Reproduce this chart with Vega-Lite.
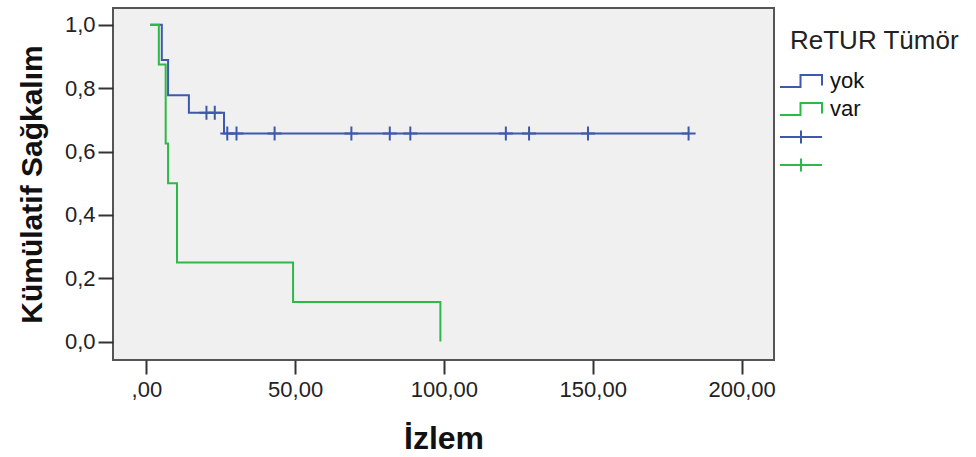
{
  "$schema": "https://vega.github.io/schema/vega-lite/v6.json",
  "autosize": {"type": "none"},
  "width": 661,
  "height": 352,
  "padding": {"left": 113, "top": 8, "right": 202, "bottom": 97},
  "background": "white",
  "datasets": {
    "curves": [
      {"grp": "yok", "t": 1.3, "s": 1},
      {"grp": "yok", "t": 5.2, "s": 0.8889},
      {"grp": "yok", "t": 7.3, "s": 0.7778},
      {"grp": "yok", "t": 14.3, "s": 0.7222},
      {"grp": "yok", "t": 26.1, "s": 0.6566},
      {"grp": "yok", "t": 182.2, "s": 0.6566},
      {"grp": "var", "t": 1.3, "s": 1},
      {"grp": "var", "t": 4.2, "s": 0.875},
      {"grp": "var", "t": 6.5, "s": 0.625},
      {"grp": "var", "t": 7.3, "s": 0.5},
      {"grp": "var", "t": 10.3, "s": 0.25},
      {"grp": "var", "t": 49.3, "s": 0.125},
      {"grp": "var", "t": 98.8, "s": 0}
    ],
    "censored": [
      {"grp": "yok+", "t": 20.2, "s": 0.7222},
      {"grp": "yok+", "t": 23.0, "s": 0.7222},
      {"grp": "yok+", "t": 27.2, "s": 0.6566},
      {"grp": "yok+", "t": 30.3, "s": 0.6566},
      {"grp": "yok+", "t": 43.1, "s": 0.6566},
      {"grp": "yok+", "t": 68.9, "s": 0.6566},
      {"grp": "yok+", "t": 81.8, "s": 0.6566},
      {"grp": "yok+", "t": 88.7, "s": 0.6566},
      {"grp": "yok+", "t": 120.8, "s": 0.6566},
      {"grp": "yok+", "t": 128.6, "s": 0.6566},
      {"grp": "yok+", "t": 148.4, "s": 0.6566},
      {"grp": "yok+", "t": 182.2, "s": 0.6566}
    ]
  },
  "layer": [
    {
      "data": {"name": "curves"},
      "mark": {"type": "line", "interpolate": "step-after", "strokeWidth": 2},
      "encoding": {
        "x": {
          "field": "t", "type": "quantitative",
          "scale": {"domain": [-11.2, 210.9], "nice": false, "zero": false},
          "axis": {
            "title": "İzlem",
            "values": [0, 50, 100, 150, 200],
            "labelExpr": "datum.value == 0 ? ',00' : replace(format(datum.value, '.2f'), '.', ',')",
            "tickSize": 14,
            "labelPadding": 5,
            "titlePadding": 23,
            "titleFontSize": 32
          }
        },
        "y": {
          "field": "s", "type": "quantitative",
          "scale": {"domain": [-0.058, 1.053], "nice": false, "zero": false},
          "axis": {
            "title": "Kümülatif Sağkalım",
            "values": [0, 0.2, 0.4, 0.6, 0.8, 1.0],
            "labelExpr": "replace(format(datum.value, '.1f'), '.', ',')",
            "tickSize": 15,
            "labelPadding": 3,
            "titlePadding": 17,
            "titleFontSize": 30
          }
        },
        "color": {
          "field": "grp", "type": "nominal",
          "scale": {"domain": ["yok", "var", "yok+", "var+"], "range": ["#3E58AC", "#2EB848", "#3E58AC", "#2EB848"]},
          "legend": {
            "title": "ReTUR Tümör",
            "orient": "none",
            "legendX": 677,
            "legendY": 20,
            "labelExpr": "indexof(datum.label, '+') >= 0 ? '\u00a0' : datum.label",
            "encode": {
              "symbols": {
                "update": {
                  "shape": {"signal": "indexof(datum.value, '+') >= 0 ? 'M-4.2,0L4.2,0M0,-1.3L0,1.3' : 'M-4.2,1.2L-0.1,1.2L-0.1,-1.2L4.2,-1.2L4.2,0.9'"},
                  "fill": {"value": "transparent"},
                  "strokeWidth": {"value": 2}
                }
              }
            }
          }
        }
      }
    },
    {
      "data": {"name": "censored"},
      "mark": {"type": "point", "shape": "M-1,0L1,0M0,-1L0,1", "size": 196, "filled": false, "strokeWidth": 2, "opacity": 1},
      "encoding": {
        "x": {"field": "t", "type": "quantitative"},
        "y": {"field": "s", "type": "quantitative"},
        "color": {"field": "grp", "type": "nominal"}
      }
    }
  ],
  "config": {
    "font": "Liberation Sans",
    "view": {"fill": "#f0f0f0", "stroke": "#555555", "strokeWidth": 2},
    "axis": {
      "domain": false,
      "grid": false,
      "tickColor": "#333333",
      "tickWidth": 2,
      "labelFont": "Liberation Sans",
      "labelFontSize": 22,
      "labelColor": "#222222",
      "titleFont": "Liberation Sans",
      "titleFontSize": 29,
      "titleFontWeight": "bold",
      "titleColor": "#111111"
    },
    "legend": {
      "titleFont": "Liberation Sans",
      "titleFontSize": 26,
      "titleFontWeight": "normal",
      "titleColor": "#222222",
      "labelFont": "Liberation Sans",
      "labelFontSize": 22,
      "labelColor": "#111111",
      "symbolSize": 100,
      "symbolStrokeWidth": 2,
      "labelOffset": 18,
      "rowPadding": 6,
      "titlePadding": 16,
      "padding": 0
    }
  }
}
